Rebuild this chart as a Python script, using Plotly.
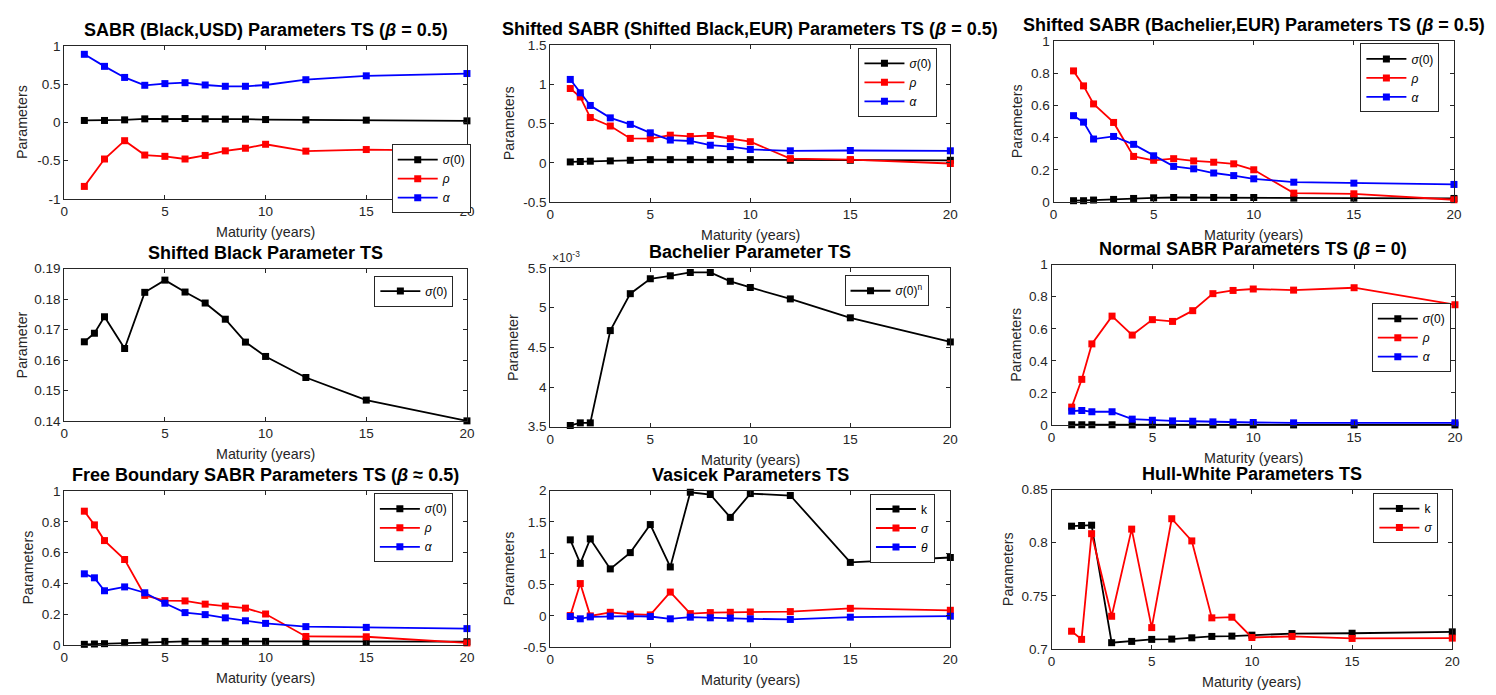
import plotly.graph_objects as go

# ---------------- data ----------------
maturity_usd = [1, 2, 3, 4, 5, 6, 7, 8, 9, 10, 12, 15, 20]
maturity = [1, 1.5, 2, 3, 4, 5, 6, 7, 8, 9, 10, 12, 15, 20]

usd_sigma0 = [0.026, 0.026, 0.034, 0.047, 0.047, 0.051, 0.047, 0.043, 0.043, 0.038, 0.034, 0.030, 0.021]
usd_rho = [-0.838, -0.479, -0.239, -0.427, -0.444, -0.479, -0.432, -0.372, -0.338, -0.286, -0.376, -0.355, -0.372]
usd_alpha = [0.893, 0.735, 0.590, 0.487, 0.509, 0.521, 0.491, 0.474, 0.474, 0.491, 0.560, 0.611, 0.641]

sblack_sigma0 = [0.011, 0.016, 0.020, 0.024, 0.032, 0.040, 0.040, 0.040, 0.040, 0.040, 0.040, 0.032, 0.032, 0.032]
sblack_rho = [0.947, 0.839, 0.577, 0.469, 0.311, 0.307, 0.352, 0.336, 0.348, 0.307, 0.269, 0.053, 0.041, -0.009]
sblack_alpha = [1.063, 0.893, 0.731, 0.573, 0.490, 0.382, 0.290, 0.278, 0.224, 0.207, 0.170, 0.153, 0.157, 0.153]

sbach_sigma0 = [0.008, 0.008, 0.012, 0.016, 0.022, 0.026, 0.028, 0.028, 0.028, 0.028, 0.028, 0.024, 0.024, 0.022]
sbach_rho = [0.814, 0.721, 0.609, 0.494, 0.283, 0.259, 0.269, 0.255, 0.247, 0.237, 0.200, 0.055, 0.051, 0.014]
sbach_alpha = [0.536, 0.496, 0.391, 0.407, 0.358, 0.287, 0.221, 0.206, 0.180, 0.164, 0.144, 0.123, 0.117, 0.109]

shifted_black_sigma0 = [0.1660, 0.1688, 0.1742, 0.1638, 0.1822, 0.1862, 0.1823, 0.1787, 0.1734, 0.1659, 0.1612, 0.1543, 0.1469, 0.1401]

bachelier_sigma0n = [3.516e-3, 3.549e-3, 3.549e-3, 4.711e-3, 5.176e-3, 5.364e-3, 5.401e-3, 5.443e-3, 5.443e-3,
                     5.332e-3, 5.254e-3, 5.110e-3, 4.872e-3, 4.568e-3]

normal_sigma0 = [0.002, 0.002, 0.002, 0.002, 0.001, 0.001, 0.001, 0.001, 0.001, 0.001, 0.001, 0.001, 0.001, 0.001]
normal_rho = [0.112, 0.285, 0.506, 0.679, 0.561, 0.657, 0.646, 0.713, 0.819, 0.839, 0.848, 0.841, 0.856, 0.750]
normal_alpha = [0.087, 0.091, 0.083, 0.083, 0.037, 0.030, 0.026, 0.024, 0.020, 0.018, 0.016, 0.014, 0.014, 0.014]

fb_sigma0 = [0.004, 0.006, 0.008, 0.015, 0.019, 0.023, 0.023, 0.023, 0.023, 0.023, 0.023, 0.021, 0.021, 0.021]
fb_rho = [0.869, 0.780, 0.678, 0.555, 0.322, 0.288, 0.286, 0.265, 0.252, 0.239, 0.201, 0.055, 0.053, 0.013]
fb_alpha = [0.462, 0.436, 0.352, 0.377, 0.339, 0.271, 0.210, 0.197, 0.176, 0.157, 0.140, 0.119, 0.114, 0.106]

vasicek_k = [1.214, 0.839, 1.229, 0.750, 1.010, 1.458, 0.781, 1.974, 1.938, 1.573, 1.953, 1.922, 0.854, 0.932]
vasicek_sigma = [0.005, 0.516, 0.000, 0.057, 0.026, 0.016, 0.380, 0.036, 0.052, 0.057, 0.062, 0.068, 0.120, 0.089]
vasicek_theta = [-0.010, -0.047, -0.016, -0.005, -0.005, -0.010, -0.047, -0.021, -0.031, -0.036, -0.047, -0.057, -0.021, -0.005]

hw_k = [0.8156, 0.8162, 0.8165, 0.7058, 0.7070, 0.7089, 0.7092, 0.7104, 0.7117, 0.7120, 0.7129, 0.7144, 0.7147, 0.7160]
hw_sigma = [0.7166, 0.7089, 0.8085, 0.7307, 0.8128, 0.7200, 0.8226, 0.8017, 0.7292, 0.7298, 0.7107, 0.7117, 0.7098, 0.7101]

x_ticks = [0, 5, 10, 15, 20]

# ---------------- layout helpers ----------------
W, H = 1496, 695
FONT = "Liberation Sans, Arial, Helvetica, sans-serif"
AXC = "#262626"
BLACK, RED, BLUE = "#000000", "#ff0000", "#0000ff"

SIG0 = "<i>σ</i>(0)"
RHO = "<i>ρ</i>"
ALPHA = "<i>α</i>"

panels = [
    dict(box=(60.7, 466.7, 40, 196), title="SABR (Black,USD) Parameters TS (<i>β</i> = 0.5)",
         yr=(-1, 1), yt=[-1, -0.5, 0, 0.5, 1], ytt=["-1", "-0.5", "0", "0.5", "1"],
         ylab="Parameters", ylx=42, leg=(470.5, 175.5),
         series=[(maturity_usd, usd_sigma0, BLACK, SIG0), (maturity_usd, usd_rho, RED, RHO),
                 (maturity_usd, usd_alpha, BLUE, ALPHA)]),
    dict(box=(550.7, 954, 39, 199.3), title="Shifted SABR (Shifted Black,EUR) Parameters TS (<i>β</i> = 0.5)",
         yr=(-0.5, 1.5), yt=[-0.5, 0, 0.5, 1, 1.5], ytt=["-0.5", "0", "0.5", "1", "1.5"],
         ylab="Parameters", ylx=42, leg=(941, 77),
         series=[(maturity, sblack_sigma0, BLACK, SIG0), (maturity, sblack_rho, RED, RHO),
                 (maturity, sblack_alpha, BLUE, ALPHA)]),
    dict(box=(1058, 1461.7, 34.7, 199.3), title="Shifted SABR (Bachelier,EUR) Parameters TS (<i>β</i> = 0.5)",
         yr=(0, 1), yt=[0, 0.2, 0.4, 0.6, 0.8, 1], ytt=["0", "0.2", "0.4", "0.6", "0.8", "1"],
         ylab="Parameters", ylx=36, leg=(1447, 72.5),
         series=[(maturity, sbach_sigma0, BLACK, SIG0), (maturity, sbach_rho, RED, RHO),
                 (maturity, sbach_alpha, BLUE, ALPHA)]),
    dict(box=(60.7, 466.7, 267.3, 423.3), title="Shifted Black Parameter TS",
         yr=(0.14, 0.19), yt=[0.14, 0.15, 0.16, 0.17, 0.18, 0.19],
         ytt=["0.14", "0.15", "0.16", "0.17", "0.18", "0.19"],
         ylab="Parameter", ylx=43, leg=(453, 290.3),
         series=[(maturity, shifted_black_sigma0, BLACK, SIG0)]),
    dict(box=(550.7, 954, 266.7, 429), title="Bachelier Parameter TS",
         yr=(3.5e-3, 5.5e-3), yt=[3.5e-3, 4e-3, 4.5e-3, 5e-3, 5.5e-3], ytt=["3.5", "4", "4.5", "5", "5.5"],
         ylab="Parameter", ylx=37, leg=(932, 290), exp=True,
         series=[(maturity, bachelier_sigma0n, BLACK, "<i>σ</i>(0)<sup>n</sup>")]),
    dict(box=(1056, 1462.7, 263.3, 427.3), title="Normal SABR Parameters TS (<i>β</i> = 0)",
         yr=(0, 1), yt=[0, 0.2, 0.4, 0.6, 0.8, 1], ytt=["0", "0.2", "0.4", "0.6", "0.8", "1"],
         ylab="Parameters", ylx=36, leg=(1458.5, 338),
         series=[(maturity, normal_sigma0, BLACK, SIG0), (maturity, normal_rho, RED, RHO),
                 (maturity, normal_alpha, BLUE, ALPHA)]),
    dict(box=(60.7, 466.7, 494.7, 652), title="Free Boundary SABR Parameters TS (<i>β</i> ≈ 0.5)",
         yr=(0, 1), yt=[0, 0.2, 0.4, 0.6, 0.8, 1], ytt=["0", "0.2", "0.4", "0.6", "0.8", "1"],
         ylab="Parameters", ylx=37, leg=(452.5, 532.3),
         series=[(maturity, fb_sigma0, BLACK, SIG0), (maturity, fb_rho, RED, RHO),
                 (maturity, fb_alpha, BLUE, ALPHA)]),
    dict(box=(550.7, 954, 494.3, 654.3), title="Vasicek Parameters TS",
         yr=(-0.5, 2), yt=[-0.5, 0, 0.5, 1, 1.5, 2], ytt=["-0.5", "0", "0.5", "1", "1.5", "2"],
         ylab="Parameters", ylx=42, leg=(938.5, 532.5),
         series=[(maturity, vasicek_k, BLACK, "k"), (maturity, vasicek_sigma, RED, "<i>σ</i>"),
                 (maturity, vasicek_theta, BLUE, "<i>θ</i>")]),
    dict(box=(1056, 1460, 493.3, 656), title="Hull-White Parameters TS",
         yr=(0.7, 0.85), yt=[0.7, 0.75, 0.8, 0.85], ytt=["0.7", "0.75", "0.8", "0.85"],
         ylab="Parameters", ylx=44, leg=(1446, 522.3),
         series=[(maturity, hw_k, BLACK, "k"), (maturity, hw_sigma, RED, "<i>σ</i>")]),
]


def px(v):
    return v / W


def py(v):
    return 1 - v / H


fig = go.Figure()
annotations = []
layout = dict(
    width=W, height=H, margin=dict(l=0, r=0, t=0, b=0, pad=0),
    paper_bgcolor="white", plot_bgcolor="white",
    font=dict(family=FONT, color=AXC),
)

for i, p in enumerate(panels, start=1):
    x0, x1, y0, y1 = p["box"]
    sfx = "" if i == 1 else str(i)
    legname = "legend" if i == 1 else f"legend{i}"

    for xs, ys, col, name in p["series"]:
        fig.add_trace(go.Scatter(
            x=xs, y=ys, name=name, mode="lines+markers",
            line=dict(color=col, width=1.8),
            marker=dict(symbol="square", size=7, color=col),
            cliponaxis=False,
            xaxis=f"x{sfx}", yaxis=f"y{sfx}", legend=legname,
        ))

    common = dict(showline=True, linecolor=AXC, linewidth=1, mirror="ticks",
                  ticks="inside", ticklen=4, tickcolor=AXC, showgrid=False,
                  zeroline=False, fixedrange=True,
                  tickfont=dict(family=FONT, size=13.5, color=AXC))
    layout[f"xaxis{sfx}"] = dict(domain=[px(x0), px(x1)], range=[0, 20], tickvals=x_ticks,
                                 anchor=f"y{sfx}", **common)
    layout[f"yaxis{sfx}"] = dict(domain=[py(y1), py(y0)], range=list(p["yr"]), tickvals=p["yt"],
                                 ticktext=p["ytt"], anchor=f"x{sfx}", **common)

    lx, ly = p["leg"]
    layout[legname] = dict(x=px(lx), y=py(ly), xanchor="right", yanchor="middle",
                           xref="paper", yref="paper",
                           bgcolor="white", bordercolor=AXC, borderwidth=1,
                           font=dict(family=FONT, size=12, color="#000000"),
                           itemwidth=40, tracegroupgap=0)

    # panel title
    annotations.append(dict(text=p["title"], x=px((x0 + x1) / 2), y=py(y0 - 4),
                            xref="paper", yref="paper", xanchor="center", yanchor="bottom",
                            showarrow=False,
                            font=dict(family=FONT, size=18, color="#000000", weight="bold")))
    # axis labels
    annotations.append(dict(text="Maturity (years)", x=px((x0 + x1) / 2), y=py(y1 + 34),
                            xref="paper", yref="paper", xanchor="center", yanchor="middle",
                            showarrow=False, font=dict(family=FONT, size=14.3, color=AXC)))
    annotations.append(dict(text=p["ylab"], x=px(x0 - p["ylx"]), y=py((y0 + y1) / 2),
                            xref="paper", yref="paper", xanchor="center", yanchor="middle",
                            textangle=-90, showarrow=False,
                            font=dict(family=FONT, size=14.3, color=AXC)))
    if p.get("exp"):
        annotations.append(dict(text="×10<sup>-3</sup>", x=px(x0), y=py(y0 - 1),
                                xref="paper", yref="paper", xanchor="left", yanchor="bottom",
                                showarrow=False, font=dict(family=FONT, size=12, color=AXC)))

layout["annotations"] = annotations
layout["showlegend"] = True
fig.update_layout(**layout)

# the figure fills the whole page, so the page itself carries no margin or scrollbars
page_css = ("document.documentElement.style.margin='0';document.body.style.margin='0';"
            "document.documentElement.style.overflow='hidden';document.body.style.overflow='hidden';")
fig.write_html("out.html", post_script=page_css)
